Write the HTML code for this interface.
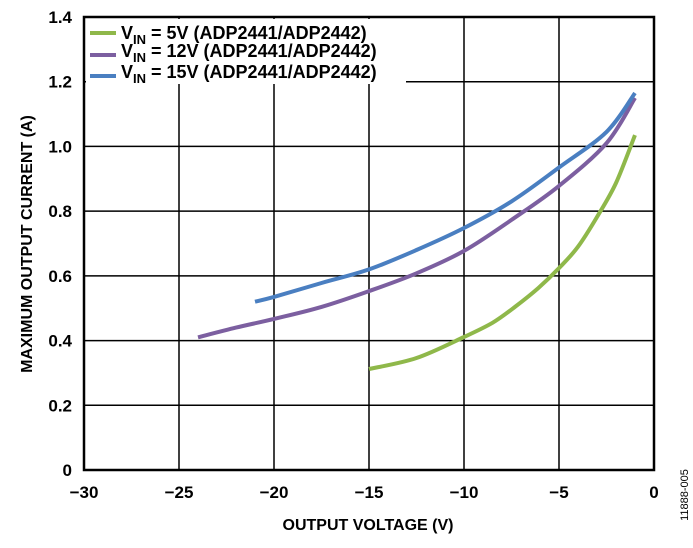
<!DOCTYPE html>
<html><head><meta charset="utf-8"><style>
html,body{margin:0;padding:0;background:#fff;}
svg text{font-family:"Liberation Sans",Arial,sans-serif;font-weight:bold;fill:#000;}
</style></head><body>
<svg id="chart" width="693" height="543" xmlns="http://www.w3.org/2000/svg">
<g id="grid"></g>
<g id="series"></g>
<g id="axes"></g>
<g id="legend">
  <rect x="86" y="19" width="320" height="65" fill="#fff"/>
  <g>
    <line x1="90" y1="33" x2="116" y2="33" stroke="#8fb84a" stroke-width="4"/>
    <text x="121" y="39" font-size="18">V<tspan font-size="13" dy="5">IN</tspan><tspan dy="-5"> = 5V (ADP2441/ADP2442)</tspan></text>
  </g>
  <g>
    <line x1="90" y1="55" x2="116" y2="55" stroke="#7c5fa0" stroke-width="4"/>
    <text x="121" y="57" font-size="18">V<tspan font-size="13" dy="5">IN</tspan><tspan dy="-5"> = 12V (ADP2441/ADP2442)</tspan></text>
  </g>
  <g>
    <line x1="90" y1="76" x2="116" y2="76" stroke="#4a7fc1" stroke-width="4"/>
    <text x="121" y="78" font-size="18">V<tspan font-size="13" dy="5">IN</tspan><tspan dy="-5"> = 15V (ADP2441/ADP2442)</tspan></text>
  </g>
</g>
<text x="368" y="530" font-size="16" text-anchor="middle">OUTPUT VOLTAGE (V)</text>
<text transform="translate(32,244) rotate(-90)" font-size="16" text-anchor="middle">MAXIMUM OUTPUT CURRENT (A)</text>
<text transform="translate(688,495) rotate(-90)" font-size="11" style="font-weight:normal" text-anchor="middle">11888-005</text>
</svg>
<script>
const xTicks = [-30,-25,-20,-15,-10,-5,0];
const xTickLabels = ["\u221230","\u221225","\u221220","\u221215","\u221210","\u22125","0"];
const yTicks = [0,0.2,0.4,0.6,0.8,1.0,1.2,1.4];
const yTickLabels = ["0","0.2","0.4","0.6","0.8","1.0","1.2","1.4"];
const x5 = [-15,-12.5,-10,-8.5,-7.3,-6.1,-5,-4,-3,-2,-1];
const y5 = [0.312,0.346,0.411,0.455,0.505,0.562,0.624,0.69,0.782,0.887,1.035];
const x12 = [-24,-22,-20,-17.5,-15,-12.5,-10,-7.5,-5,-2.5,-1];
const y12 = [0.41,0.44,0.467,0.504,0.553,0.608,0.677,0.773,0.878,1.01,1.15];
const x15 = [-21,-20,-17.5,-15,-12.5,-10,-7.5,-5,-2.5,-1];
const y15 = [0.52,0.535,0.578,0.62,0.68,0.748,0.83,0.935,1.045,1.165];

const X0=84,X1=654,Y0=470,Y1=17;
const sx = v => X0 + (v+30)/30*(X1-X0);
const sy = v => Y0 - v/1.4*(Y0-Y1);
const NS="http://www.w3.org/2000/svg";
function mk(tag, attrs, parent){const e=document.createElementNS(NS,tag);for(const k in attrs)e.setAttribute(k,attrs[k]);parent.appendChild(e);return e;}
const grid=document.getElementById('grid'), axes=document.getElementById('axes'), series=document.getElementById('series');
xTicks.forEach((t,i)=>{
  const l=mk('line',{x1:sx(t),x2:sx(t),y1:Y1,y2:Y0,stroke:'#000','stroke-width':1.5},grid);
  
  
  const tx=mk('text',{x:sx(t),y:498,'font-size':17,'text-anchor':'middle'},axes);
  tx.textContent=xTickLabels[i];
  
  
});
yTicks.forEach((t,i)=>{
  const l=mk('line',{x1:X0,x2:X1,y1:sy(t),y2:sy(t),stroke:'#000','stroke-width':1.5},grid);
  
  
  const tx=mk('text',{x:72,y:sy(t)+6,'font-size':17,'text-anchor':'end'},axes);
  tx.textContent=yTickLabels[i];
  
  
});
const frame=mk('rect',{x:X0,y:Y1,width:X1-X0,height:Y0-Y1,fill:'none',stroke:'#000','stroke-width':2.5},axes);


function line(xs,ys,color,name){
  const P=xs.map((x,i)=>[sx(x),sy(ys[i])]);
  let d='M'+P[0][0].toFixed(1)+','+P[0][1].toFixed(1);
  for(let i=0;i<P.length-1;i++){
    const p0=P[i-1]||P[i],p1=P[i],p2=P[i+1],p3=P[i+2]||P[i+1];
    const c1=[p1[0]+(p2[0]-p0[0])/6,p1[1]+(p2[1]-p0[1])/6];
    const c2=[p2[0]-(p3[0]-p1[0])/6,p2[1]-(p3[1]-p1[1])/6];
    d+=' C'+c1.map(v=>v.toFixed(1)).join(',')+' '+c2.map(v=>v.toFixed(1)).join(',')+' '+p2.map(v=>v.toFixed(1)).join(',');
  }
  const p=mk('path',{d:d,fill:'none',stroke:color,'stroke-width':4,'stroke-linejoin':'round'},series);
  
  
}
line(x5,y5,'#8fb84a','series-vin-5v');
line(x12,y12,'#7c5fa0','series-vin-12v');
line(x15,y15,'#4a7fc1','series-vin-15v');
</script>
</body></html>
